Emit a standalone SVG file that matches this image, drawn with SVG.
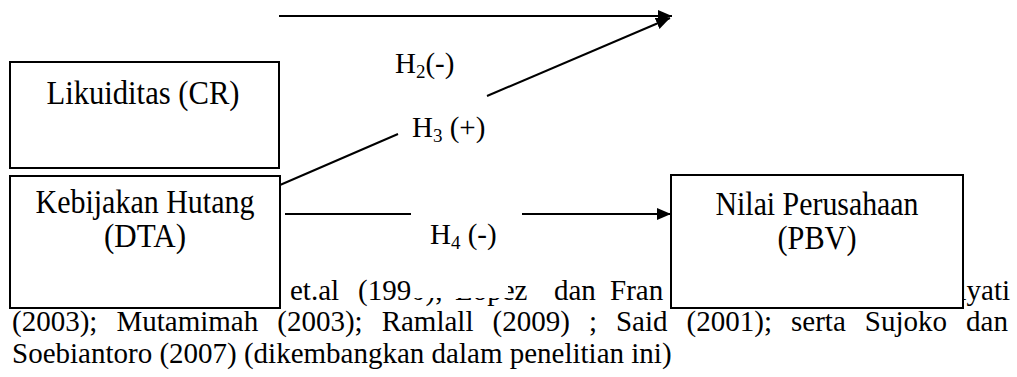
<svg xmlns="http://www.w3.org/2000/svg" width="1017" height="377" viewBox="0 0 1017 377">
  <style>
    text { font-family: "Liberation Serif", "Times New Roman", serif; fill: #000; }
    .box { fill: #fff; stroke: #000; stroke-width: 2; }
    .node-text { font-size: 33px; text-anchor: middle; }
    .hyp { font-size: 29px; }
    .sub { font-size: 19px; }
    .para { font-size: 29px; }
    .conn { stroke: #000; stroke-width: 2; fill: none; }
    .mask { fill: #fff; stroke: none; }
  </style>
  <defs>
    <marker id="arrow" markerUnits="userSpaceOnUse" markerWidth="15" markerHeight="14" refX="14" refY="7" orient="auto">
      <path d="M0,1 L14,7 L0,13 Z" fill="#000"/>
    </marker>
  </defs>

  <!-- source note paragraph (partly hidden behind the boxes) -->
  <g id="source-note" class="para">
    <text x="290" y="300">et.al</text>
    <text x="358" y="300">(199</text>
    <text x="411" y="300">0),</text>
    <text x="455" y="300">Lopez</text>
    <text x="554" y="300">dan</text>
    <text x="610" y="300">Fran</text>
    <text x="1010" y="300" text-anchor="end">lyati</text>
    <text x="12" y="331" word-spacing="11.8">(2003); Mutamimah (2003); Ramlall (2009) ; Said (2001); serta Sujoko dan</text>
    <text x="12" y="363">Soebiantoro (2007) (dikembangkan dalam penelitian ini)</text>
  </g>

  <!-- connectors -->
  <g id="connectors">
    <line class="conn" x1="279" y1="16" x2="672" y2="16" marker-end="url(#arrow)"/>
    <line class="conn" x1="280" y1="185" x2="398" y2="134"/>
    <line class="conn" x1="487" y1="96" x2="670" y2="18" marker-end="url(#arrow)"/>
    <line class="conn" x1="285" y1="214" x2="411" y2="214"/>
    <line class="conn" x1="522" y1="214" x2="671" y2="214" marker-end="url(#arrow)"/>
  </g>

  <!-- hypothesis labels -->
  <g id="label-h2" class="hyp">
    <text x="395" y="73">H<tspan class="sub" dy="5">2</tspan><tspan dy="-5">(-)</tspan></text>
  </g>
  <g id="label-h3" class="hyp">
    <text x="412" y="137">H<tspan class="sub" dy="5">3</tspan><tspan dy="-5"> (+)</tspan></text>
  </g>
  <g id="label-h4" class="hyp">
    <rect class="mask" x="411" y="224" width="97" height="74"/>
    <text x="430" y="244">H<tspan class="sub" dy="5">4</tspan><tspan dy="-5"> (-)</tspan></text>
  </g>

  <!-- variable boxes (labels set tall and narrow) -->
  <g id="node-likuiditas">
    <rect class="box" x="10" y="62" width="269" height="106"/>
    <text class="node-text" x="143" y="104" textLength="193" lengthAdjust="spacingAndGlyphs">Likuiditas (CR)</text>
  </g>
  <g id="node-kebijakan-hutang">
    <rect class="box" x="10" y="176" width="270" height="132"/>
    <text class="node-text" x="145" y="213" textLength="219" lengthAdjust="spacingAndGlyphs">Kebijakan Hutang</text>
    <text class="node-text" x="145" y="247" textLength="82" lengthAdjust="spacingAndGlyphs">(DTA)</text>
  </g>
  <g id="node-nilai-perusahaan">
    <rect class="box" x="671" y="175" width="292" height="133"/>
    <text class="node-text" x="817" y="215" textLength="203" lengthAdjust="spacingAndGlyphs">Nilai Perusahaan</text>
    <text class="node-text" x="817" y="249" textLength="79" lengthAdjust="spacingAndGlyphs">(PBV)</text>
  </g>
</svg>
